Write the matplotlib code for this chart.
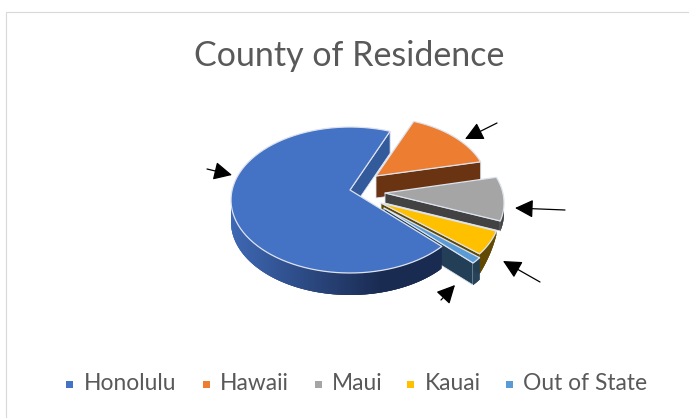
import numpy as np
from matplotlib import pyplot as plt
from matplotlib.colors import to_rgb
from matplotlib.patches import Polygon, Rectangle

# shares (percent)
counties = ['Honolulu', 'Hawaii', 'Maui', 'Kauai', 'Out of State']
shares = [69.5, 13.8, 9.7, 5.5, 1.5]

colors = ['#4472C4', '#ED7D31', '#A5A5A5', '#FFC000', '#5B9BD5']
wall_colors = ['#335A9A', '#6A3312', '#424242', '#5F4700', '#233F57']
rim_colors = ['#3E68B4', '#6A3312', '#424242', '#5F4700', '#233F57']
rim_dark = '#1A2B52'

# layout in pixels
cx, cy = 350, 200
rx, ry = 119, 73
apex_lift = 10
start = 129.5
offsets = [(0, 0), (26, -14), (35, 3), (31, 13), (34, 18)]
radius_scale = [1, 0.94, 1, 1, 0.97]
wall_depth = [22, 22, 10, 20, 22]
rim_depth0 = [22, 22, 10, 4, 22]
legend_marker_x = [66, 203, 315, 407, 506]
legend_text_x = [84, 220, 332, 425, 523]
arrows = [((497, 123), (465, 139)), ((207, 169), (232, 175)), ((565, 210), (515, 208)),
          ((540, 282), (503, 261)), ((441, 300), (455, 285))]

edge = '#DDE3EE'


def rim_pts(t0, t1, ox, oy, sc, n=80):
    t = np.radians(np.linspace(t0, t1, n))
    return np.c_[cx + ox + sc*rx*np.sin(t), cy + oy - sc*ry*np.cos(t)]


fig = plt.figure(figsize=(6.89, 4.18), dpi=100)
ax = fig.add_axes([0, 0, 1, 1])
ax.set_xlim(0, 689)
ax.set_ylim(418, 0)
ax.axis('off')

# chart border
ax.plot([5.5, 5.5, 689], [418, 11.5, 11.5], color='#D9D9D9', lw=0.8)

# slice angles, clockwise from the top of the ellipse
angles = []
a = start
for s in shares:
    angles.append((a, a + s*3.6))
    a += s*3.6


def draw_slice(i, z):
    t0, t1 = angles[i]
    if t0 >= 360:
        t0 -= 360
        t1 -= 360
    ox, oy = offsets[i]
    sc = radius_scale[i]
    apex = np.array([cx + ox, cy + oy - apex_lift])
    top = rim_pts(t0, t1, ox, oy, sc)
    down = np.array([0, wall_depth[i]])

    # end wall, seen when it faces the viewer
    if 0 < t1 % 360 < 180:
        ax.add_patch(Polygon([apex, top[-1], top[-1] + down, apex + down], fc=wall_colors[i],
                             ec=edge, lw=0.6, zorder=z))
    # outer rim, lower half of the ellipse only
    lo = max(t0, 90)
    hi = min(t1, 270)
    if hi > lo:
        seg = rim_pts(lo, hi, ox, oy, sc, 160)
        d = np.linspace(rim_depth0[i], wall_depth[i], len(seg)) if i else np.full(len(seg), 22.0)
        d = np.c_[np.zeros(len(seg)), d]
        # walk from the right so each strip overlaps the seam of the last
        for k in range(len(seg) - 1):
            j = min(k + 3, len(seg) - 1)
            if i == 0:
                # dark on the right, lightening to the left
                f = np.clip((seg[k, 0] - 232)/150, 0, 1)
                col = tuple(np.array(to_rgb(rim_colors[0]))*(1 - f) + np.array(to_rgb(rim_dark))*f)
            else:
                col = rim_colors[i]
            ax.add_patch(Polygon([seg[k], seg[j], seg[j] + d[j], seg[k] + d[k]],
                                 fc=col, ec='none', zorder=z + 0.1))
    # top face
    ax.add_patch(Polygon(np.vstack([apex, top]), fc=colors[i], ec=edge, lw=0.9,
                         joinstyle='round', zorder=z + 0.2))


# back to front: Hawaii, Maui, Kauai, Out of State, Honolulu
for z, i in enumerate([1, 2, 3, 4, 0]):
    draw_slice(i, z + 1)

# arrows on top
for tail, tip in arrows:
    ax.annotate('', xy=tip, xytext=tail, zorder=10,
                arrowprops=dict(arrowstyle='-|>,head_length=0.8,head_width=0.4', color='k', lw=0.9,
                                mutation_scale=14, shrinkA=0, shrinkB=0))

ax.text(349, 56, 'County of Residence', family='Lato', fontsize=24.5, color='#595959',
        ha='center', va='center')

for name, col, mx, tx in zip(counties, colors, legend_marker_x, legend_text_x):
    ax.add_patch(Rectangle((mx, 381), 7, 7, fc=col, ec='none'))
    ax.text(tx, 384, name, family='Lato', fontsize=16.4, color='#595959', ha='left', va='center')

fig.savefig('out.png', dpi=100)
